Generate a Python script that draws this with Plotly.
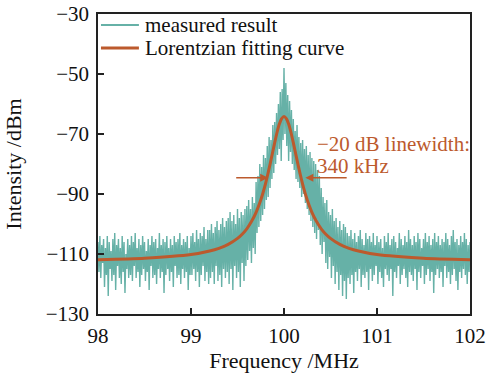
import numpy as np
import plotly.graph_objects as go

# ---- data ----
# measured spectrum, 401 samples from 98.00 to 102.00 MHz (step 0.01 MHz), dBm
measured_db = [
    # 98.00 - 98.19
    -106, -116, -104, -118, -107, -113, -105, -121, -108, -117, -104, -124, -106, -115, -109, -119, -105, -117, -103, -122,
    # 98.20 - 98.39
    -107, -114, -105, -118, -108, -120, -104, -116, -106, -123, -110, -115, -105, -118, -107, -117, -104, -119, -106, -114,
    # 98.40 - 98.59
    -103, -118, -108, -116, -105, -121, -107, -117, -104, -115, -106, -119, -109, -116, -105, -122, -107, -114, -104, -118,
    # 98.60 - 98.79
    -106, -117, -105, -120, -108, -115, -103, -118, -107, -116, -105, -123, -106, -117, -104, -115, -108, -119, -105, -116,
    # 98.80 - 98.99
    -107, -121, -104, -114, -106, -118, -105, -117, -103, -120, -107, -115, -105, -118, -106, -116, -104, -122, -108, -117,
    # 99.00 - 99.19
    -104, -117, -103, -115, -106, -119, -102, -116, -105, -121, -103, -117, -104, -114, -101, -119, -105, -116, -102, -120,
    # 99.20 - 99.39
    -102, -118, -100, -116, -103, -120, -101, -114, -99, -119, -102, -117, -100, -121, -98, -115, -101, -118, -99, -116,
    # 99.40 - 99.59
    -98, -120, -96, -115, -99, -122, -97, -114, -100, -118, -95, -116, -98, -121, -96, -113, -97, -119, -95, -114,
    # 99.60 - 99.69
    -94, -112, -92, -109, -95, -113, -91, -108, -93, -110,
    # 99.70 - 99.89
    -86, -103, -84, -101, -80, -99, -81, -97, -77, -95, -78, -92, -74, -91, -71, -88, -72, -85, -67, -83,
    # 99.90 - 100.09
    -66, -80, -63, -77, -60, -75, -56, -79, -55, -72, -48, -70, -53, -74, -57, -79, -59, -76, -62, -80,
    # 100.10 - 100.29
    -65, -82, -69, -85, -67, -86, -71, -88, -73, -91, -72, -90, -75, -93, -74, -95, -77, -97, -76, -99,
    # 100.30 - 100.49
    -78, -101, -79, -103, -80, -105, -82, -102, -84, -107, -88, -110, -91, -106, -93, -113, -92, -115, -96, -111,
    # 100.50 - 100.69
    -97, -118, -95, -114, -99, -120, -98, -116, -101, -122, -99, -117, -102, -124, -100, -119, -101, -125, -103, -118,
    # 100.70 - 100.89
    -104, -120, -102, -117, -105, -123, -103, -116, -106, -119, -104, -115, -102, -121, -105, -117, -107, -118, -103, -116,
    # 100.90 - 101.09
    -105, -122, -104, -115, -106, -119, -103, -117, -107, -114, -104, -120, -106, -116, -105, -118, -108, -121, -104, -115,
    # 101.10 - 101.29
    -106, -117, -103, -119, -107, -115, -105, -124, -104, -116, -106, -118, -108, -114, -103, -120, -105, -117, -107, -115,
    # 101.30 - 101.49
    -104, -118, -106, -121, -102, -116, -105, -117, -107, -119, -104, -115, -106, -122, -103, -116, -105, -118, -108, -114,
    # 101.50 - 101.69
    -105, -120, -103, -117, -106, -115, -104, -119, -107, -116, -105, -123, -103, -117, -106, -115, -104, -118, -107, -116,
    # 101.70 - 101.89
    -105, -121, -106, -114, -103, -118, -105, -116, -107, -120, -104, -117, -102, -115, -106, -119, -105, -122, -107, -116,
    # 101.90 - 102.00
    -104, -118, -106, -115, -103, -117, -105, -120, -107, -116, -106,
]
freq_start_mhz = 98.0
freq_stop_mhz = 102.0

# Lorentzian fitting curve, read at selected frequencies
fit_freq = [98.0, 98.5, 99.0, 99.2, 99.3, 99.4, 99.5, 99.55, 99.6, 99.65, 99.7, 99.75, 99.775,
            99.8, 99.825, 99.85, 99.875, 99.9, 99.925, 99.95, 99.975, 100.0,
            100.025, 100.05, 100.075, 100.1, 100.125, 100.15, 100.175, 100.2, 100.225, 100.25,
            100.3, 100.35, 100.4, 100.45, 100.5, 100.6, 100.7, 100.8, 101.0, 101.5, 102.0]
fit_db = [-111.9, -111.4, -110.2, -109.0, -108.1, -106.8, -104.8, -103.4, -101.6, -99.2, -96.1, -92.0, -89.5,
          -86.7, -83.5, -80.1, -76.5, -72.9, -69.5, -66.7, -64.85, -64.2,
          -64.85, -66.7, -69.5, -72.9, -76.5, -80.1, -83.5, -86.7, -89.5, -92.0,
          -96.1, -99.2, -101.6, -103.4, -104.8, -106.8, -108.1, -109.0, -110.2, -111.4, -111.9]

x_ticks = [98, 99, 100, 101, 102]
y_ticks = [-130, -110, -90, -70, -50, -30]
legend_labels = ["measured result", "Lorentzian fitting curve"]

measured_freq = np.linspace(freq_start_mhz, freq_stop_mhz, len(measured_db))

TEAL = "#66B1A7"
ORANGE = "#BC5A2D"
FONT = "Liberation Serif"
INK = "#111"

fig = go.Figure()
fig.add_trace(go.Scatter(
    x=measured_freq, y=measured_db, mode="lines", name=legend_labels[0],
    line=dict(color=TEAL, width=1.4), showlegend=False,
))
fig.add_trace(go.Scatter(
    x=fit_freq, y=fit_db, mode="lines", name=legend_labels[1],
    line=dict(color=ORANGE, width=3, shape="spline", smoothing=0.6), showlegend=False,
))

# legend drawn inside the top-left corner of the frame
legend_rows = [(0.963, TEAL, 2), (0.887, ORANGE, 3)]
for (yy, col, w), label in zip(legend_rows, legend_labels):
    fig.add_shape(type="line", xref="paper", yref="paper", x0=0.008, x1=0.110, y0=yy, y1=yy,
                  line=dict(color=col, width=w))
    fig.add_annotation(x=0.121, y=yy, xref="paper", yref="paper", xanchor="left", yanchor="middle",
                       text=label, showarrow=False, font=dict(family=FONT, size=21, color=INK))

# linewidth annotation
fig.add_annotation(x=99.83, y=-84.6, ax=99.47, ay=-84.6, xref="x", yref="y", axref="x", ayref="y",
                   text="", showarrow=True, arrowhead=2, arrowsize=1, arrowwidth=1.6, arrowcolor=ORANGE)
fig.add_annotation(x=100.23, y=-84.6, ax=100.69, ay=-84.6, xref="x", yref="y", axref="x", ayref="y",
                   text="", showarrow=True, arrowhead=2, arrowsize=1, arrowwidth=1.6, arrowcolor=ORANGE)
fig.add_annotation(x=100.335, y=-73.3, xref="x", yref="y", xanchor="left", yanchor="middle",
                   text="\u221220 dB linewidth:", showarrow=False,
                   font=dict(family=FONT, size=21, color=ORANGE))
fig.add_annotation(x=100.335, y=-80.8, xref="x", yref="y", xanchor="left", yanchor="middle",
                   text="340 kHz", showarrow=False,
                   font=dict(family=FONT, size=21, color=ORANGE))

axis_common = dict(showline=True, mirror=True, linecolor="#222", linewidth=1.5,
                   ticks="inside", ticklen=6, tickwidth=1.5, tickcolor="#222",
                   showgrid=False, zeroline=False, ticklabeloverflow="allow",
                   tickfont=dict(family=FONT, size=21, color=INK))

fig.update_xaxes(range=[freq_start_mhz, freq_stop_mhz], tickvals=x_ticks, ticklabelstandoff=2,
                 title=dict(text="Frequency /MHz", font=dict(family=FONT, size=22, color=INK), standoff=0),
                 **axis_common)
fig.update_yaxes(range=[-130, -30], tickvals=y_ticks, ticklabelstandoff=3,
                 title=dict(text="Intensity /dBm", font=dict(family=FONT, size=22, color=INK), standoff=18),
                 **axis_common)

fig.update_layout(
    width=487, height=373,
    margin=dict(l=98, r=17, t=14, b=59),
    paper_bgcolor="white", plot_bgcolor="white",
    font=dict(family=FONT, size=20, color=INK),
    showlegend=False,
)
for ax in (fig.layout.xaxis, fig.layout.yaxis):
    ax.automargin = False

# remove the page's default 8 px body margin so the figure fills the window exactly
fig.write_html("out.html", config={"displayModeBar": False},
               post_script="document.body.style.margin='0';")
